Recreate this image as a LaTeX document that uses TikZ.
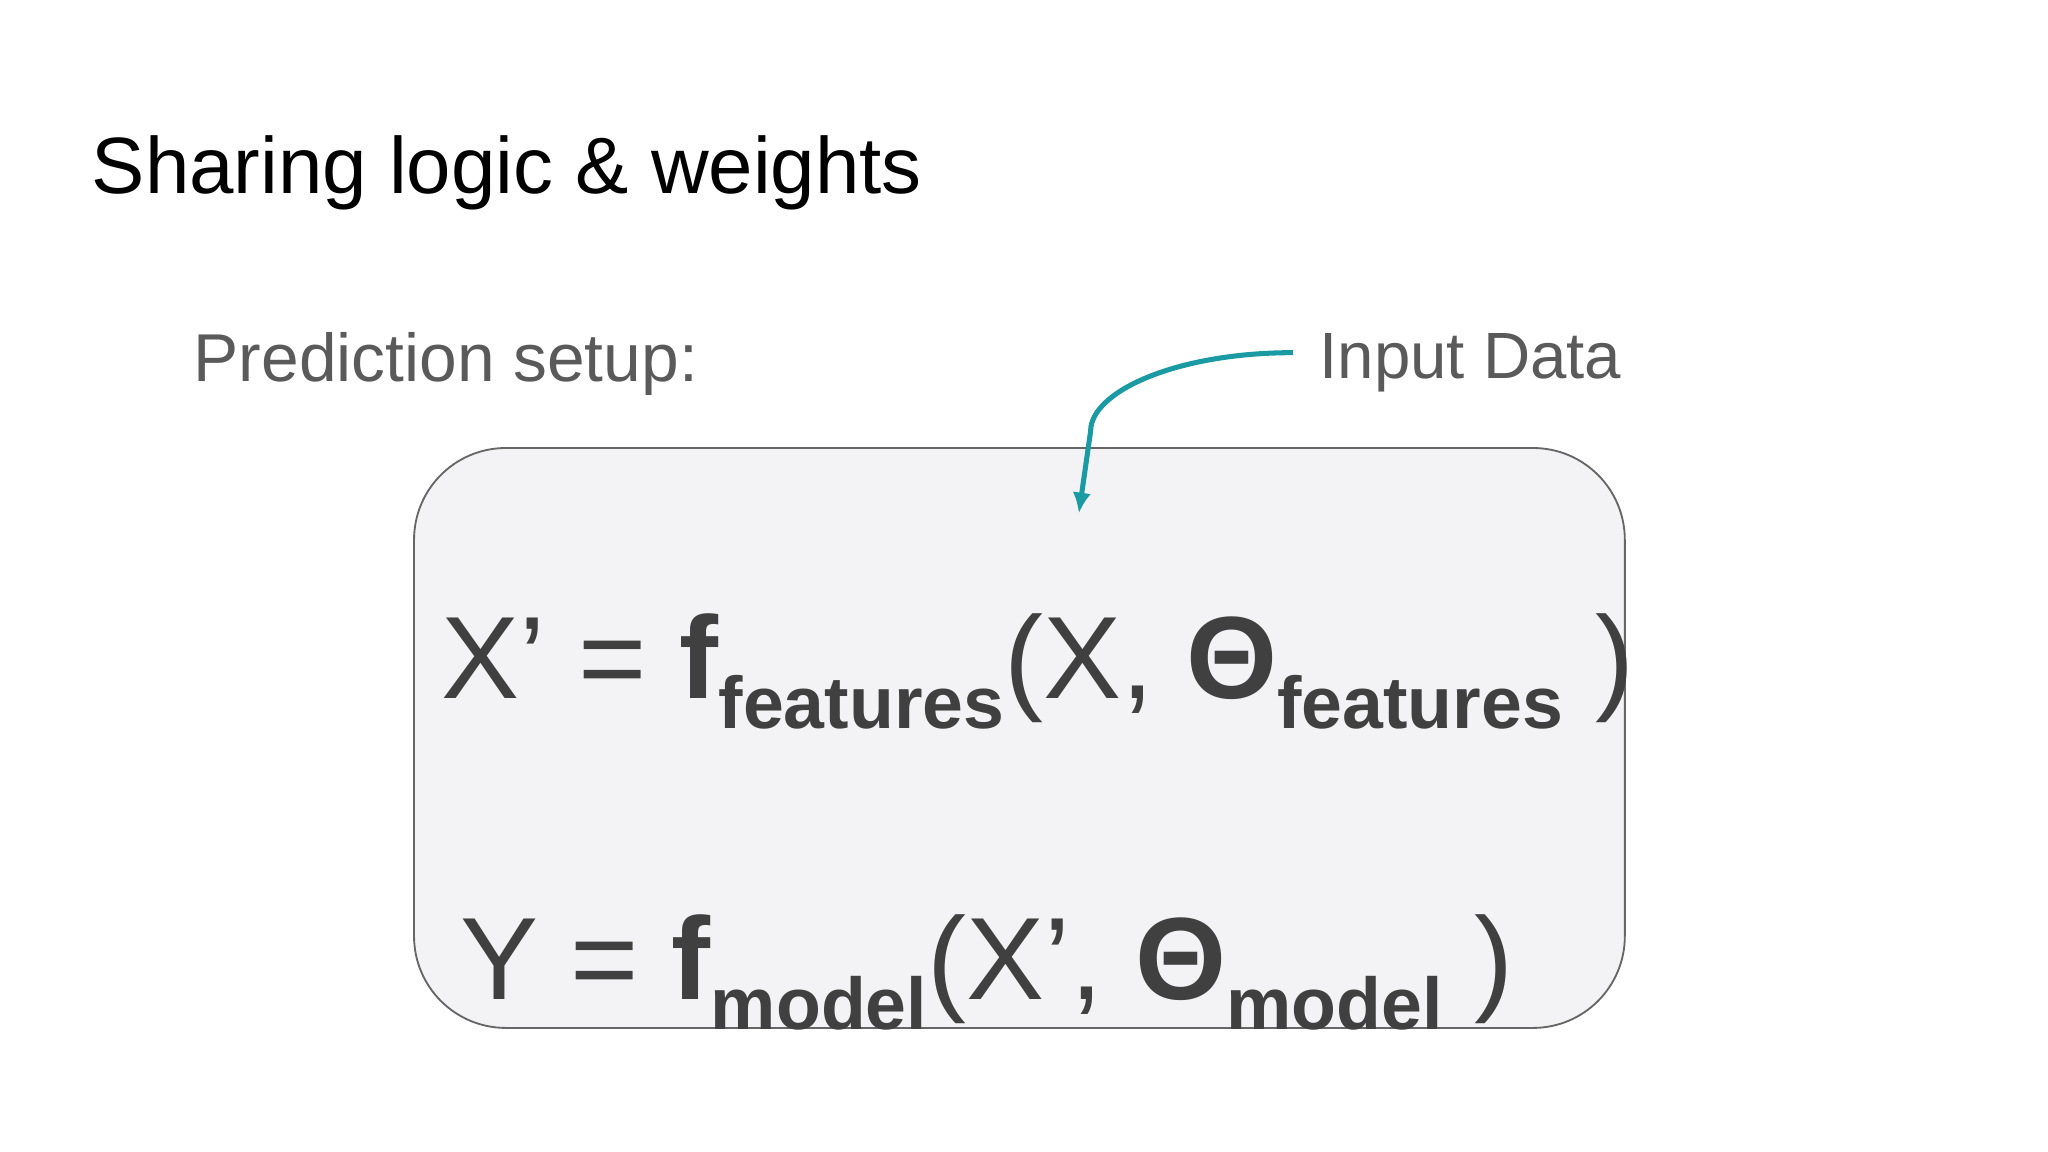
\documentclass[tikz,border=0pt]{standalone}
\usetikzlibrary{arrows.meta}
\usepackage{fontspec}
\setmainfont{Liberation Sans}
\definecolor{tx}{HTML}{5A5A5A}
\definecolor{eq}{HTML}{404040}
\definecolor{teal}{HTML}{1A9AA2}
\definecolor{boxf}{HTML}{F3F2F4}
\newcommand{\subt}[1]{\raisebox{-13pt}{\fontsize{32}{36}\selectfont\bfseries #1}}
\begin{document}
\begin{tikzpicture}[x=0.02cm,y=-0.02cm,
  lbl/.style={inner sep=0,anchor=base west,text=tx,font=\fontsize{29.5}{34}\selectfont},
  eqn/.style={inner sep=0,anchor=base west,text=eq,font=\fontsize{51}{60}\selectfont}]
\useasboundingbox[fill=white] (0,0) rectangle (1568,882);
\node[inner sep=0,anchor=base west,font=\fontsize{34.8}{40}\selectfont] (title) at (70,148) {Sharing logic \& weights};
\node[lbl] (setup) at (148,292) {Prediction setup:};
\node[lbl,font=\fontsize{28.5}{33}\selectfont] (input) at (1010,290) {Input Data};
\draw[draw=eq!80,line width=0.8pt,fill=boxf,rounded corners=40pt] (317,343) rectangle (1244,787);
\coordinate (tip) at (826,393);
\node[eqn] (eq1) at (338,535) {X’ = \textbf{f}\subt{features}(X, \textbf{Θ}\subt{features} )};
\node[eqn] (eq2) at (352,765) {Y = \textbf{f}\subt{model}(X’, \textbf{Θ}\subt{model} )};
\draw[teal,line width=2.2pt,-{Latex[length=9pt,width=8pt]}] (990,270) .. controls (900,270) and (835,300) .. (835,330) -- (tip);
\end{tikzpicture}
\end{document}
